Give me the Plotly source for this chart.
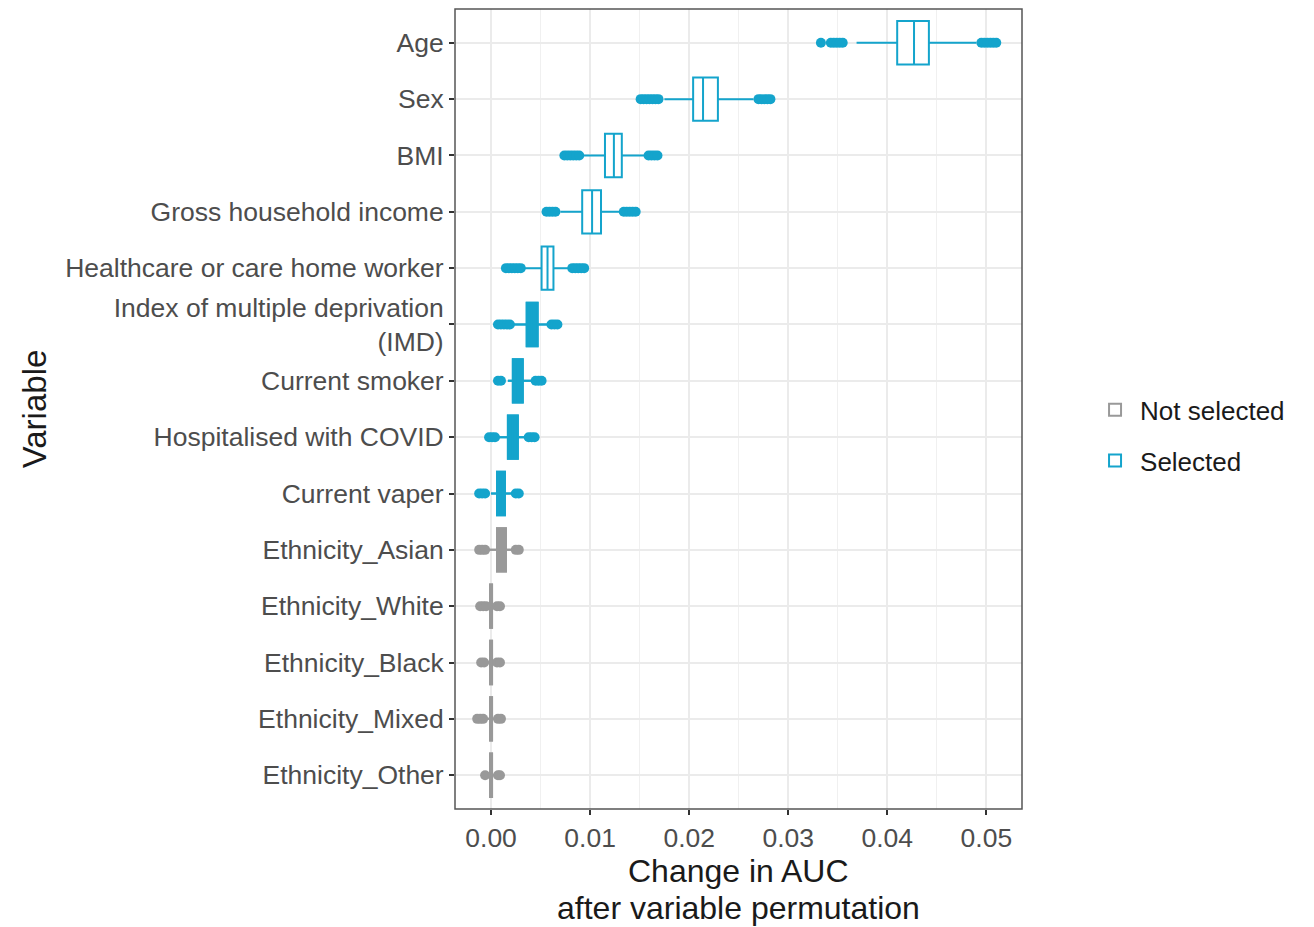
import plotly.graph_objects as go

# ---------------- data ----------------
categories = ["Age", "Sex", "BMI", "Gross household income",
              "Healthcare or care home worker",
              "Index of multiple deprivation<br>(IMD)",
              "Current smoker", "Hospitalised with COVID", "Current vaper",
              "Ethnicity_Asian", "Ethnicity_White", "Ethnicity_Black",
              "Ethnicity_Mixed", "Ethnicity_Other"]
selected = [True] * 9 + [False] * 5

q1 = [0.0410, 0.0204, 0.0115, 0.0092, 0.0051, 0.0036, 0.0022, 0.0017, 0.0006,
      0.0006, -0.0001, -0.0001, -0.0001, -0.0001]
median = [0.0427, 0.0214, 0.0124, 0.0102, 0.0057, 0.0041, 0.0027, 0.0022, 0.0010,
          0.0010, 0.0000, 0.0000, 0.0000, 0.0000]
q3 = [0.0442, 0.0229, 0.0132, 0.0111, 0.0063, 0.0047, 0.0032, 0.0027, 0.0014,
      0.0015, 0.0001, 0.0001, 0.0001, 0.0001]
lowerfence = [0.0369, 0.0175, 0.0093, 0.0070, 0.0034, 0.0022, 0.0017, 0.0007, 0.0000,
              -0.0003, -0.0004, -0.0004, -0.0004, -0.0003]
upperfence = [0.0490, 0.0265, 0.0156, 0.0133, 0.0080, 0.0058, 0.0041, 0.0035, 0.0022,
              0.0022, 0.0004, 0.0004, 0.0004, 0.0003]
outliers = [
    [0.0333, 0.0343, 0.0346, 0.0349, 0.0352, 0.0355,
     0.0495, 0.0498, 0.0501, 0.0504, 0.0507, 0.0510],
    [0.0151, 0.0154, 0.0157, 0.0160, 0.0163, 0.0166, 0.0169,
     0.0270, 0.0273, 0.0276, 0.0279, 0.0282],
    [0.0074, 0.0077, 0.0080, 0.0083, 0.0086, 0.0089,
     0.0159, 0.0162, 0.0165, 0.0168],
    [0.0056, 0.0059, 0.0062, 0.0065, 0.0134, 0.0137, 0.0140, 0.0143, 0.0146],
    [0.0015, 0.0018, 0.0021, 0.0024, 0.0027, 0.0030,
     0.0082, 0.0085, 0.0088, 0.0091, 0.0094],
    [0.0007, 0.0010, 0.0013, 0.0016, 0.0019, 0.0061, 0.0064, 0.0067],
    [0.0007, 0.0010, 0.0045, 0.0048, 0.0051],
    [-0.0002, 0.0001, 0.0004, 0.0038, 0.0041, 0.0044],
    [-0.0012, -0.0009, -0.0006, 0.0025, 0.0028],
    [-0.0012, -0.0009, -0.0006, 0.0025, 0.0028],
    [-0.0011, -0.0008, -0.0005, 0.0006, 0.0009],
    [-0.0010, -0.0007, 0.0006, 0.0009],
    [-0.0014, -0.0011, -0.0008, 0.0007, 0.0010],
    [-0.0006, 0.0007, 0.0009],
]
x_ticks = [0.00, 0.01, 0.02, 0.03, 0.04, 0.05]
x_tick_labels = ["0.00", "0.01", "0.02", "0.03", "0.04", "0.05"]
x_title_lines = ["Change in AUC", "after variable permutation"]
y_title = "Variable"
zero_line = 0.0
groups = [("Not selected", False), ("Selected", True)]

# ---------------- style ----------------
BLUE = "#14A4CC"
GREY = "#999999"
FONT = "Liberation Sans, Arial, Helvetica, sans-serif"
NARROW_IQR = 0.00115   # boxes narrower than this render as solid bars

fig = go.Figure()


def box_trace(idx, name, col, fill, legend):
    return go.Box(
        name=name,
        legendgroup=name,
        orientation="h",
        y=[categories[i] for i in idx],
        q1=[q1[i] for i in idx],
        median=[median[i] for i in idx],
        q3=[q3[i] for i in idx],
        lowerfence=[lowerfence[i] for i in idx],
        upperfence=[upperfence[i] for i in idx],
        boxpoints=False,
        width=0.77,
        fillcolor=fill,
        line=dict(color=col, width=2),
        whiskerwidth=0,
        showlegend=legend,
        hoverinfo="skip",
    )


for name, flag in groups:
    col = BLUE if flag else GREY
    idx_all = [i for i, s in enumerate(selected) if s == flag]
    # all boxes, hollow (carries the legend entry)
    fig.add_trace(box_trace(idx_all, name, col, "white", True))
    # narrow boxes overdrawn as solid bars
    narrow = [i for i in idx_all if q3[i] - q1[i] < NARROW_IQR]
    if narrow:
        fig.add_trace(box_trace(narrow, name, col, col, False))
    ox, oy = [], []
    for i in idx_all:
        ox += outliers[i]
        oy += [categories[i]] * len(outliers[i])
    fig.add_trace(go.Scatter(
        x=ox, y=oy, mode="markers", legendgroup=name,
        marker=dict(color=col, size=10, line=dict(width=0)),
        showlegend=False, hoverinfo="skip",
    ))

fig.add_shape(type="line", xref="x", yref="paper", x0=zero_line, x1=zero_line,
              y0=0, y1=1, line=dict(color="#8c8c8c", width=1.6, dash="7px,5px"),
              layer="below")
# panel border
fig.add_shape(type="rect", xref="paper", yref="paper", x0=0, x1=1, y0=0, y1=1,
              line=dict(color="#555555", width=1.5), fillcolor="rgba(0,0,0,0)",
              layer="above")

# x-axis title (two lines, tighter line spacing than plotly's default)
for line_text, shift in zip(x_title_lines, [-62, -99]):
    fig.add_annotation(text=line_text, xref="paper", yref="paper", x=0.5, y=0,
                       xanchor="center", yanchor="middle", yshift=shift,
                       showarrow=False, borderpad=0,
                       font=dict(size=32, color="#1a1a1a"))

fig.update_layout(
    width=1306, height=919,
    margin=dict(l=447, r=292, t=1, b=118),
    paper_bgcolor="white", plot_bgcolor="white",
    boxmode="overlay",
    font=dict(family=FONT, color="#1a1a1a"),
    legend=dict(x=1.12, y=0.467, xanchor="left", yanchor="middle",
                font=dict(size=26, color="#1a1a1a"),
                traceorder="grouped", itemwidth=40, tracegroupgap=14),
    xaxis=dict(
        range=[-0.00364, 0.0536],
        tickvals=x_ticks, ticktext=x_tick_labels,
        tickfont=dict(size=26.5, color="#4d4d4d"),
        ticks="outside", ticklen=5, tickcolor="#333333", tickwidth=1.5,
        showgrid=True, gridcolor="#EBEBEB", gridwidth=1.6,
        minor=dict(dtick=0.005, tick0=0.005, showgrid=True, gridcolor="#F0F0F0", gridwidth=1.2),
        showline=False, zeroline=False, automargin=False,
    ),
    yaxis=dict(
        type="category",
        categoryorder="array", categoryarray=categories[::-1],
        range=[-0.6, len(categories) - 0.4],
        tickfont=dict(size=26.5, color="#4d4d4d"),
        ticks="outside", ticklen=5, tickcolor="#333333", tickwidth=1.5,
        showgrid=True, gridcolor="#EBEBEB", gridwidth=1.6,
        showline=False, zeroline=False, automargin=False,
        title=dict(text=y_title, font=dict(size=33, color="#1a1a1a"), standoff=8),
    ),
)

fig.write_html("out.html")
